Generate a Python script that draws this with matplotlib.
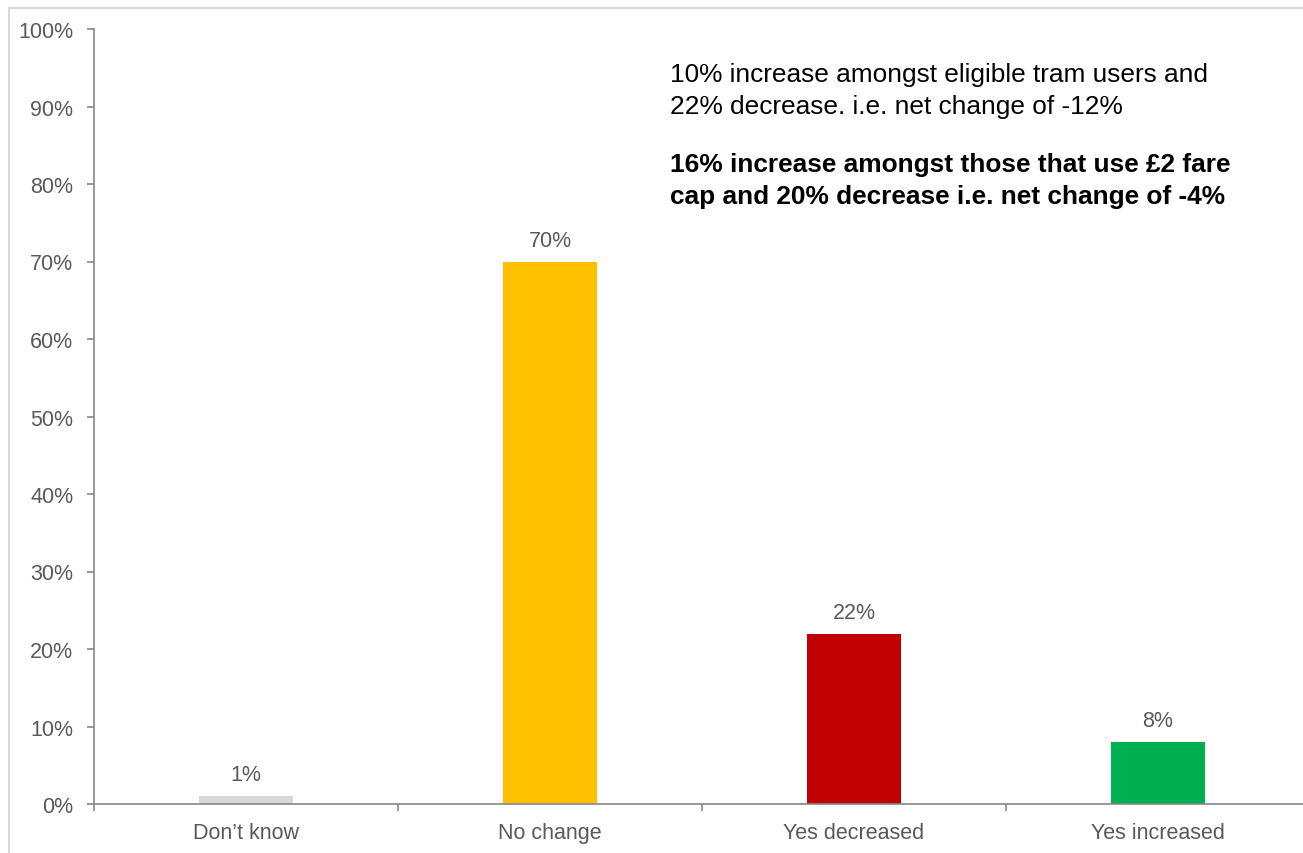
import matplotlib.pyplot as plt
from matplotlib.patches import Rectangle

plt.rcParams['font.family'] = ['Liberation Sans', 'DejaVu Sans']

# data
categories = ["Don\u2019t know", "No change", "Yes decreased", "Yes increased"]
values = [1, 70, 22, 8]
colors = ["#d9d9d9", "#ffc000", "#c00000", "#00b050"]
note_lines = ["10% increase amongst eligible tram users and",
              "22% decrease. i.e. net change of -12%"]
note_bold = ["16% increase amongst those that use \u00a32 fare",
             "cap and 20% decrease i.e. net change of -4%"]

W, H = 1303, 854
fig = plt.figure(figsize=(W / 100, H / 100), dpi=100)

# light frame round the chart area (cut off on the right and bottom)
fig.patches.append(Rectangle((8.5 / W, -0.05), 1.1, 1 - 8.5 / H + 0.05,
                             transform=fig.transFigure, fill=False,
                             edgecolor="#d9d9d9", linewidth=1.5))

ax_left, ax_right = 94 / W, 1310 / W
ax_bot, ax_top = 1 - 805 / H, 1 - 30 / H
ax = fig.add_axes([ax_left, ax_bot, ax_right - ax_left, ax_top - ax_bot])

x = list(range(len(categories)))
ax.bar(x, values, width=0.31, color=colors, zorder=2)

grey = "#595959"
fs = 15.5
for xi, v in zip(x, values):
    ax.text(xi, v + 1.4, f"{v}%", ha="center", va="bottom", fontsize=fs, color=grey)

ax.set_xlim(-0.5, len(categories) - 0.5)
ax.set_ylim(0, 100)
ax.set_yticks(range(0, 101, 10))
ax.set_yticklabels([f"{t}%" for t in range(0, 101, 10)])
ax.set_xticks(x)
ax.set_xticklabels(categories)
ax.set_xticks([i + 0.5 for i in range(-1, len(categories))], minor=True)

ax.tick_params(axis="x", which="major", length=0, pad=13, labelsize=fs, labelcolor=grey)
ax.tick_params(axis="x", which="minor", length=5, width=1.2, color="#868686")
ax.tick_params(axis="y", length=5, width=1.2, color="#868686", pad=10, labelsize=fs, labelcolor=grey)

for s in ["top", "right"]:
    ax.spines[s].set_visible(False)
for s in ["left", "bottom"]:
    ax.spines[s].set_color("#868686")
    ax.spines[s].set_linewidth(1.2)

# annotation text
tx = 670 / W
nfs = 18.9
fig.text(tx, 1 - 75 / H, note_lines[0], fontsize=nfs, color="black", va="center")
fig.text(tx, 1 - 107 / H, note_lines[1], fontsize=nfs, color="black", va="center")
fig.text(tx, 1 - 165 / H, note_bold[0], fontsize=nfs, color="black", va="center", fontweight="bold")
fig.text(tx, 1 - 197 / H, note_bold[1], fontsize=nfs, color="black", va="center", fontweight="bold")

fig.savefig("out.png", dpi=100)
